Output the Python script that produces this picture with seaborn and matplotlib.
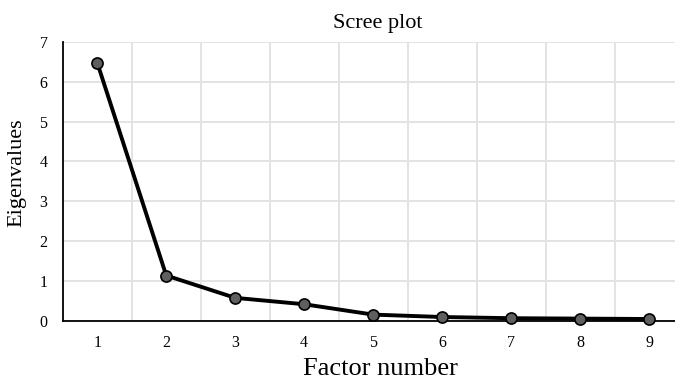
import matplotlib
matplotlib.use("Agg")
import matplotlib.pyplot as plt
import seaborn as sns
import pandas as pd

factors = [1, 2, 3, 4, 5, 6, 7, 8, 9]
eigenvalues = [6.47, 1.14, 0.58, 0.42, 0.16, 0.10, 0.07, 0.06, 0.05]
title = "Scree plot"
xlabel = "Factor number"
ylabel = "Eigenvalues"

sns.set_theme(style="whitegrid")
plt.rcParams['font.family'] = ['Liberation Serif', 'DejaVu Serif']

df = pd.DataFrame({"factor": factors, "eig": eigenvalues})

W, H = 675, 379
fig = plt.figure(figsize=(W / 100, H / 100), dpi=100)
left, right, top, bottom = 62.8, 683.5, 41.7, 321.0
ax = fig.add_axes([left / W, 1 - bottom / H, (right - left) / W, (bottom - top) / H])

sns.lineplot(data=df, x="factor", y="eig", ax=ax, color="black", linewidth=2.8,
             marker="o", markersize=8, markerfacecolor="#5f5f5f",
             markeredgecolor="black", markeredgewidth=1.2, zorder=5, clip_on=False)

ax.set_xlim(0.5, 9.5)
ax.set_ylim(0, 7)
ax.set_xticks(factors)
ax.set_xticklabels([str(f) for f in factors])
ax.set_yticks(range(0, 8))
ax.set_xlabel("")
ax.set_ylabel("")

# vertical gridlines between categories
ax.xaxis.grid(False)
for xv in [1.5 + i for i in range(9)]:
    ax.axvline(xv, color="#e3e3e3", linewidth=1.4, zorder=0)
ax.yaxis.grid(True, color="#e3e3e3", linewidth=1.4)

for s in ["top", "right"]:
    ax.spines[s].set_visible(False)
ax.spines["left"].set_color("black")
ax.spines["left"].set_linewidth(1.3)
ax.spines["bottom"].set_color("black")
ax.spines["bottom"].set_linewidth(1.3)

ax.tick_params(axis="both", length=0, labelsize=11.5, colors="black")
ax.tick_params(axis="y", pad=11)
ax.tick_params(axis="x", pad=10)

fig.text(378 / W, 1 - 28 / H, title, fontsize=16, color="black",
         ha="center", va="baseline")
fig.text(380 / W, 1 - 375 / H, xlabel, fontsize=19, color="black",
         ha="center", va="baseline")
fig.text(17 / W, 1 - 173 / H, ylabel, fontsize=16, color="black",
         ha="center", va="center", rotation=90)

fig.savefig("out.png", dpi=100, facecolor="white")
